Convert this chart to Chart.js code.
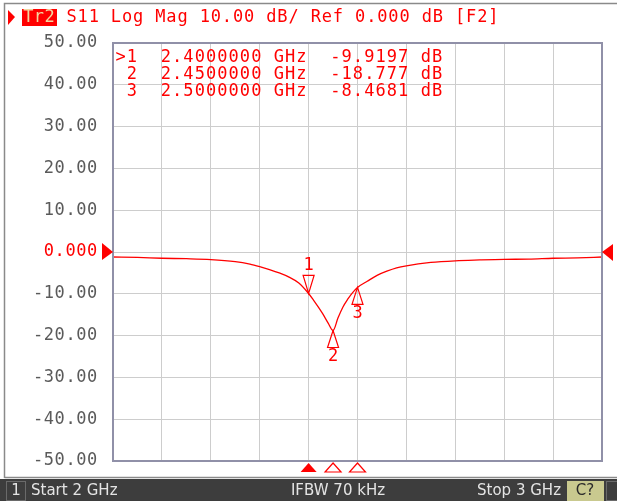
<!DOCTYPE html>
<html>
<head>
<meta charset="utf-8">
<script src="https://cdn.jsdelivr.net/npm/chart.js@4/dist/chart.umd.min.js"></script>
<style>
  html, body { margin: 0; padding: 0; background: #fff; }
  canvas { display: block; }
</style>
</head>
<body>
<canvas id="vna" width="617" height="501"></canvas>
<script>
// ---- data ----
const freqs = [2.00, 2.05, 2.10, 2.15, 2.20, 2.25, 2.28, 2.30, 2.32, 2.34, 2.36, 2.38,
               2.40, 2.41, 2.42, 2.43, 2.44, 2.45, 2.46, 2.47, 2.48, 2.49, 2.50,
               2.52, 2.54, 2.56, 2.58, 2.60, 2.65, 2.70, 2.75, 2.80, 2.85, 2.90, 2.95, 3.00];
const s11 = [-1.2, -1.3, -1.5, -1.6, -1.8, -2.3, -2.9, -3.5, -4.2, -5.0, -6.0, -7.4,
             -9.9197, -11.5, -13.2, -15.0, -17.0, -18.777, -15.8, -13.2, -11.3, -9.7, -8.4681,
             -7.0, -5.6, -4.6, -3.8, -3.3, -2.5, -2.1, -1.9, -1.75, -1.7, -1.5, -1.4, -1.2];
const yTickLabels = ['-50.00', '-40.00', '-30.00', '-20.00', '-10.00', '0.000',
                     '10.00', '20.00', '30.00', '40.00', '50.00'];
const markerNames = ['1', '2', '3'];
const markerFreqs = [2.40, 2.45, 2.50];
const markerVals = [-9.9197, -18.777, -8.4681];
const markerRows = [
  '>1  2.4000000 GHz  -9.9197 dB',
  ' 2  2.4500000 GHz  -18.777 dB',
  ' 3  2.5000000 GHz  -8.4681 dB'
];
const titleText = 'S11 Log Mag 10.00 dB/ Ref 0.000 dB [F2]';
const statusLeft = 'Start 2 GHz';
const statusMid = 'IFBW 70 kHz';
const statusRight = 'Stop 3 GHz';

const RED = '#ff0000';
const MONO = '17px "DejaVu Sans Mono", "Liberation Mono", monospace';
const ADV = 11.1;

// draw a string on a fixed character grid
function drawMono(ctx, str, x, y, adv) {
    ctx.textAlign = 'center';
    ctx.textBaseline = 'middle';
    for (let i = 0; i < str.length; i++) {
        if (str[i] !== ' ') ctx.fillText(str[i], x + i * adv + adv / 2, y);
    }
}

function tri(ctx, pts, fill) {
    ctx.beginPath();
    ctx.moveTo(pts[0], pts[1]);
    ctx.lineTo(pts[2], pts[3]);
    ctx.lineTo(pts[4], pts[5]);
    ctx.closePath();
    if (fill) ctx.fill(); else ctx.stroke();
}

// background, window frame and status bar
const screenBack = {
    id: 'screenBack',
    beforeDraw(chart) {
        const ctx = chart.ctx;
        ctx.save();
        ctx.fillStyle = '#ffffff';
        ctx.fillRect(0, 0, 617, 501);
        ctx.strokeStyle = '#8a8a8a';
        ctx.lineWidth = 1.5;
        ctx.beginPath();
        ctx.moveTo(4.5, 478);
        ctx.lineTo(4.5, 3.5);
        ctx.lineTo(617, 3.5);
        ctx.moveTo(4.5, 477.5);
        ctx.lineTo(617, 477.5);
        ctx.stroke();

        // status bar
        ctx.fillStyle = '#3d3d3d';
        ctx.fillRect(0, 479, 617, 22);
        ctx.strokeStyle = '#6a6a6a';
        ctx.lineWidth = 1;
        ctx.strokeRect(6.5, 481.5, 19, 19);
        ctx.fillStyle = '#c9c98f';
        ctx.fillRect(567, 481, 37, 20);
        ctx.strokeRect(606.5, 481.5, 14, 19);
        ctx.font = '15px "DejaVu Sans", sans-serif';
        ctx.textBaseline = 'middle';
        ctx.fillStyle = '#e4e4e4';
        ctx.textAlign = 'center';
        ctx.fillText('1', 16, 491);
        ctx.textAlign = 'left';
        ctx.fillText(statusLeft, 31, 491);
        ctx.textAlign = 'center';
        ctx.fillText(statusMid, 338, 491);
        ctx.textAlign = 'right';
        ctx.fillText(statusRight, 561, 491);
        ctx.fillStyle = '#2a2a2a';
        ctx.textAlign = 'center';
        ctx.fillText('C?', 585, 491);
        ctx.restore();
    }
};

// frame, labels, markers, title
const screenFront = {
    id: 'screenFront',
    afterDraw(chart) {
        const ctx = chart.ctx;
        const xs = chart.scales.x, ys = chart.scales.y;
        const a = chart.chartArea;
        ctx.save();

        ctx.strokeStyle = '#9090a8';
        ctx.lineWidth = 2;
        ctx.strokeRect(a.left, a.top, a.right - a.left, a.bottom - a.top);

        // y tick labels
        ctx.font = MONO;
        ys.ticks.forEach((t, i) => {
            const py = ys.getPixelForValue(t.value);
            const lab = yTickLabels[i];
            ctx.fillStyle = t.value === 0 ? RED : '#5a5a5a';
            drawMono(ctx, lab, 97.5 - lab.length * 10.8, py, 10.8);
        });

        // reference level arrows
        ctx.fillStyle = RED;
        const y0 = ys.getPixelForValue(0);
        tri(ctx, [102, y0 - 9, 113, y0, 102, y0 + 8], true);
        tri(ctx, [613, y0 - 8, 602, y0, 613, y0 + 9], true);

        // title line
        tri(ctx, [8, 10, 15, 17, 8, 25], true);
        ctx.fillRect(22, 9, 35, 17);
        ctx.fillStyle = '#f2d6a0';
        drawMono(ctx, 'Tr2', 23, 17.5, 10.6);
        ctx.fillStyle = RED;
        drawMono(ctx, titleText, 66, 17.5, ADV);

        // marker table
        markerRows.forEach((row, i) => drawMono(ctx, row, 115, 57.5 + i * 16.8, 11.3));

        // markers on trace
        ctx.strokeStyle = RED;
        ctx.lineWidth = 1.2;
        markerFreqs.forEach((f, i) => {
            const px = xs.getPixelForValue(f);
            const py = ys.getPixelForValue(markerVals[i]);
            if (i === 0) {
                tri(ctx, [px - 5.5, py - 18, px + 5.5, py - 18, px, py], false);
                drawMono(ctx, markerNames[i], px - 5.5, py - 28, 11);
            } else {
                tri(ctx, [px - 5.5, py + 17, px + 5.5, py + 17, px, py], false);
                drawMono(ctx, markerNames[i], px - 5.5, py + 26, 11);
            }
            // marker position under the axis
            if (i === 0) tri(ctx, [px - 8, 472, px + 8, 472, px, 463], true);
            else tri(ctx, [px - 8, 472, px + 8, 472, px, 463], false);
        });
        ctx.restore();
    }
};

new Chart(document.getElementById('vna'), {
    type: 'line',
    data: {
        datasets: [{
            data: freqs.map((f, i) => ({ x: f, y: s11[i] })),
            borderColor: RED,
            borderWidth: 1.3,
            pointRadius: 0,
            cubicInterpolationMode: 'monotone',
            fill: false
        }]
    },
    options: {
        responsive: false,
        animation: false,
        devicePixelRatio: 1,
        layout: { padding: { left: 113, top: 43, right: 15, bottom: 40 } },
        plugins: { legend: { display: false }, tooltip: { enabled: false } },
        scales: {
            x: {
                type: 'linear', min: 2, max: 3,
                ticks: { display: false, stepSize: 0.1 },
                grid: { color: '#cdcdcd', lineWidth: 1, drawTicks: false },
                border: { display: false },
                afterFit(s) { s.height = 0; }
            },
            y: {
                min: -50, max: 50,
                ticks: { display: false, stepSize: 10 },
                grid: { color: '#cdcdcd', lineWidth: 1, drawTicks: false },
                border: { display: false },
                afterFit(s) { s.width = 0; }
            }
        }
    },
    plugins: [screenBack, screenFront]
});
</script>
</body>
</html>
